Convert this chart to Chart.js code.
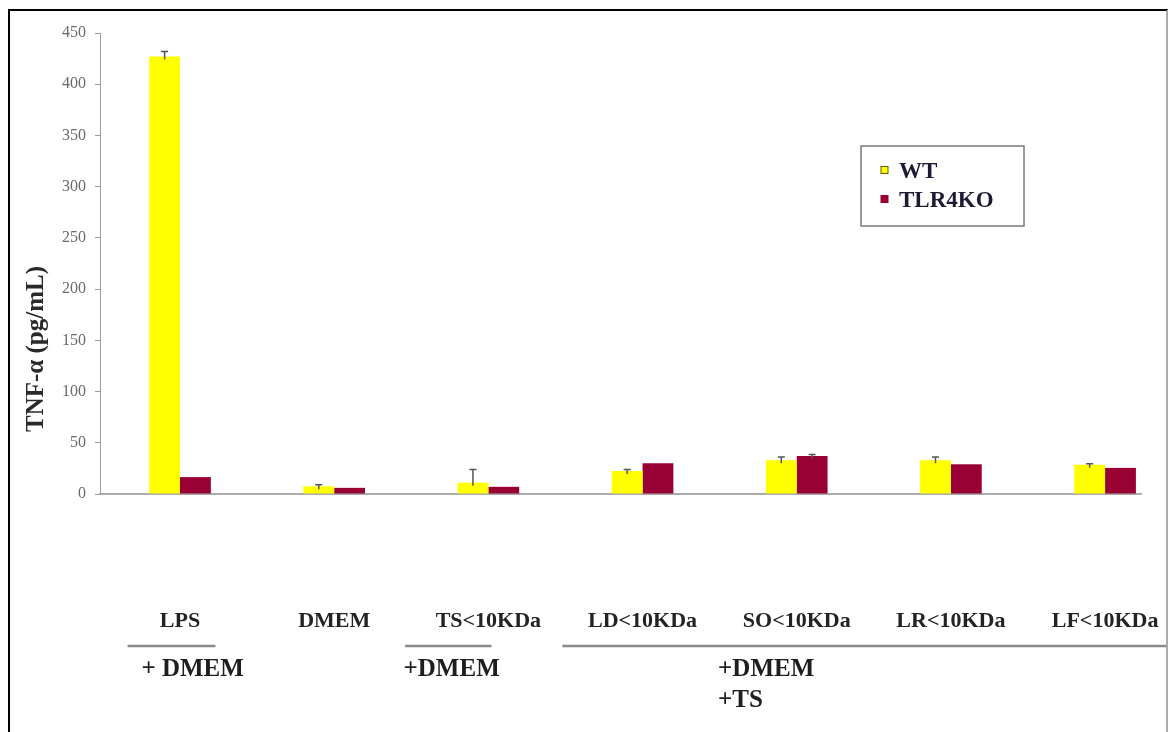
<!DOCTYPE html>
<html>
<head>
<meta charset="utf-8">
<script src="https://cdn.jsdelivr.net/npm/chart.js@4.4.1/dist/chart.umd.min.js"></script>
<style>
  html, body { margin: 0; padding: 0; background: #fff; overflow: hidden; }
  #wrap { position: relative; width: 1168px; height: 732px; }
  #chart { position: absolute; left: 0; top: 0; }
  #frame {
    position: absolute; left: 8px; top: 9px; width: 1156px; height: 760px;
    border-left: 2px solid #000; border-top: 2px solid #000; border-right: 2px solid #aaa;
    pointer-events: none;
  }
</style>
</head>
<body>
<div id="wrap">
  <canvas id="chart" width="1168" height="732"></canvas>
  <div id="frame"></div>
</div>
<script>
// Treatments along the x axis
const categories = ['LPS', 'DMEM', 'TS<10KDa', 'LD<10KDa', 'SO<10KDa', 'LR<10KDa', 'LF<10KDa'];
const seriesNames = ['WT', 'TLR4KO'];

// TNF-α concentrations (pg/mL) and their error bars
const wtValues = [427, 7.5, 11, 22.5, 33, 33, 28.5];
const wtErrors = [5, 1.5, 13, 1.5, 3, 3, 1];
const koValues = [16.5, 6, 7, 30, 37, 29, 25.5];
const koErrors = [0, 0, 0, 0, 1.5, 0, 0];

// Y axis range
const yMin = 0;
const yMax = 450;
const yStep = 50;
const yTitle = 'TNF-α (pg/mL)';

// Medium annotations written under the treatment names
const groupNotes = [
  { lines: ['+ DMEM'] },
  { lines: ['+DMEM'] },
  { lines: ['+DMEM', '+TS'] }
];

const serif = '"Liberation Serif", "Times New Roman", serif';

const errorBars = {
  id: 'errorBars',
  afterDatasetsDraw(chart, args, opts) {
    const ctx = chart.ctx;
    const y = chart.scales.y;
    chart.data.datasets.forEach((ds, di) => {
      const meta = chart.getDatasetMeta(di);
      meta.data.forEach((bar, i) => {
        const err = ds.errors[i];
        if (!err) return;
        const top = y.getPixelForValue(ds.data[i].y + err);
        ctx.save();
        ctx.strokeStyle = opts.color;
        ctx.lineWidth = 1.5;
        ctx.beginPath();
        ctx.moveTo(bar.x, bar.y + 3);
        ctx.lineTo(bar.x, top);
        ctx.moveTo(bar.x - 3.5, top);
        ctx.lineTo(bar.x + 3.5, top);
        ctx.stroke();
        ctx.restore();
      });
    });
  }
};

const boxLegend = {
  id: 'boxLegend',
  afterDraw(chart, args, o) {
    const ctx = chart.ctx;
    ctx.save();
    ctx.strokeStyle = '#7a7a7a';
    ctx.lineWidth = 1.5;
    ctx.strokeRect(o.left, o.top, o.width, o.height);
    ctx.font = 'bold 23px ' + serif;
    ctx.textBaseline = 'middle';
    ctx.textAlign = 'left';
    chart.data.datasets.forEach((ds, i) => {
      const cy = o.firstY + i * o.rowGap;
      ctx.fillStyle = ds.backgroundColor;
      ctx.fillRect(o.swatchX, cy - 3.5, 7, 7);
      ctx.strokeStyle = ds.swatchBorder;
      ctx.lineWidth = 1;
      ctx.strokeRect(o.swatchX, cy - 3.5, 7, 7);
      ctx.fillStyle = '#1b1b33';
      ctx.fillText(ds.label, o.textX, cy + 2);
    });
    ctx.restore();
  }
};

const yAxisTitle = {
  id: 'yAxisTitle',
  afterDraw(chart, args, o) {
    const ctx = chart.ctx;
    ctx.save();
    ctx.translate(o.x, o.y);
    ctx.rotate(-Math.PI / 2);
    ctx.font = 'bold 25px ' + serif;
    ctx.fillStyle = '#2a2a2a';
    ctx.textAlign = 'center';
    ctx.textBaseline = 'middle';
    ctx.fillText(o.text, 0, 0);
    ctx.restore();
  }
};

const groupBrackets = {
  id: 'groupBrackets',
  afterDraw(chart, args, o) {
    const ctx = chart.ctx;
    const x = chart.scales.x;
    ctx.save();
    groupNotes.forEach((g, i) => {
      const span = o.spans[i];
      ctx.strokeStyle = '#8a8a8a';
      ctx.lineWidth = 2.5;
      ctx.beginPath();
      ctx.moveTo(x.getPixelForValue(span[0]), o.lineY);
      ctx.lineTo(x.getPixelForValue(span[1]), o.lineY);
      ctx.stroke();
      ctx.fillStyle = '#1e1e1e';
      ctx.font = 'bold 25px ' + serif;
      ctx.textAlign = 'left';
      ctx.textBaseline = 'middle';
      g.lines.forEach((t, k) => {
        ctx.fillText(t, x.getPixelForValue(o.textAt[i]), o.textY + k * o.lineGap);
      });
    });
    ctx.restore();
  }
};

new Chart(document.getElementById('chart'), {
  type: 'bar',
  data: {
    datasets: [
      {
        label: seriesNames[0],
        data: categories.map((c, i) => ({ x: i, y: wtValues[i] })),
        errors: wtErrors,
        backgroundColor: '#ffff00',
        swatchBorder: '#5a5a10'
      },
      {
        label: seriesNames[1],
        data: categories.map((c, i) => ({ x: i, y: koValues[i] })),
        errors: koErrors,
        backgroundColor: '#990033',
        swatchBorder: '#990033'
      }
    ]
  },
  options: {
    responsive: false,
    animation: false,
    events: [],
    categoryPercentage: 0.4,
    barPercentage: 1.0,
    layout: { padding: { top: 33, right: 27, left: 0, bottom: 0 } },
    scales: {
      x: {
        type: 'linear',
        offset: false,
        min: -0.519,
        max: 6.233,
        afterBuildTicks: s => { s.ticks = categories.map((c, i) => ({ value: i })); },
        afterFit: s => { s.height = 238; },
        grid: { display: true, drawOnChartArea: false, offset: false, tickLength: 111, color: 'transparent', tickColor: 'transparent' },
        border: { display: true, color: '#ababab', width: 2 },
        ticks: {
          autoSkip: false,
          maxRotation: 0,
          padding: 3,
          color: '#232323',
          font: { family: serif, size: 22, weight: 'bold' },
          callback: v => categories[Math.round(v)]
        }
      },
      y: {
        min: yMin,
        max: yMax,
        afterFit: s => { s.width = 100; },
        grid: { display: true, drawOnChartArea: false, tickLength: 5, color: '#9a9a9a' },
        border: { display: true, color: '#a0a0a0', width: 1 },
        ticks: {
          stepSize: yStep,
          padding: 9,
          color: '#6a6a6a',
          font: { family: serif, size: 16 }
        }
      }
    },
    plugins: {
      legend: { display: false },
      tooltip: { enabled: false },
      errorBars: { color: '#555555' },
      boxLegend: { left: 861, top: 146, width: 163, height: 80, swatchX: 881, textX: 899, firstY: 170, rowGap: 29 },
      yAxisTitle: { x: 37, y: 349, text: yTitle },
      groupBrackets: {
        lineY: 646,
        textY: 670,
        lineGap: 31,
        spans: [[-0.34, 0.23], [1.46, 2.02], [2.48, 6.45]],
        textAt: [-0.25, 1.45, 3.49]
      }
    }
  },
  plugins: [errorBars, boxLegend, yAxisTitle, groupBrackets]
});
</script>
</body>
</html>
